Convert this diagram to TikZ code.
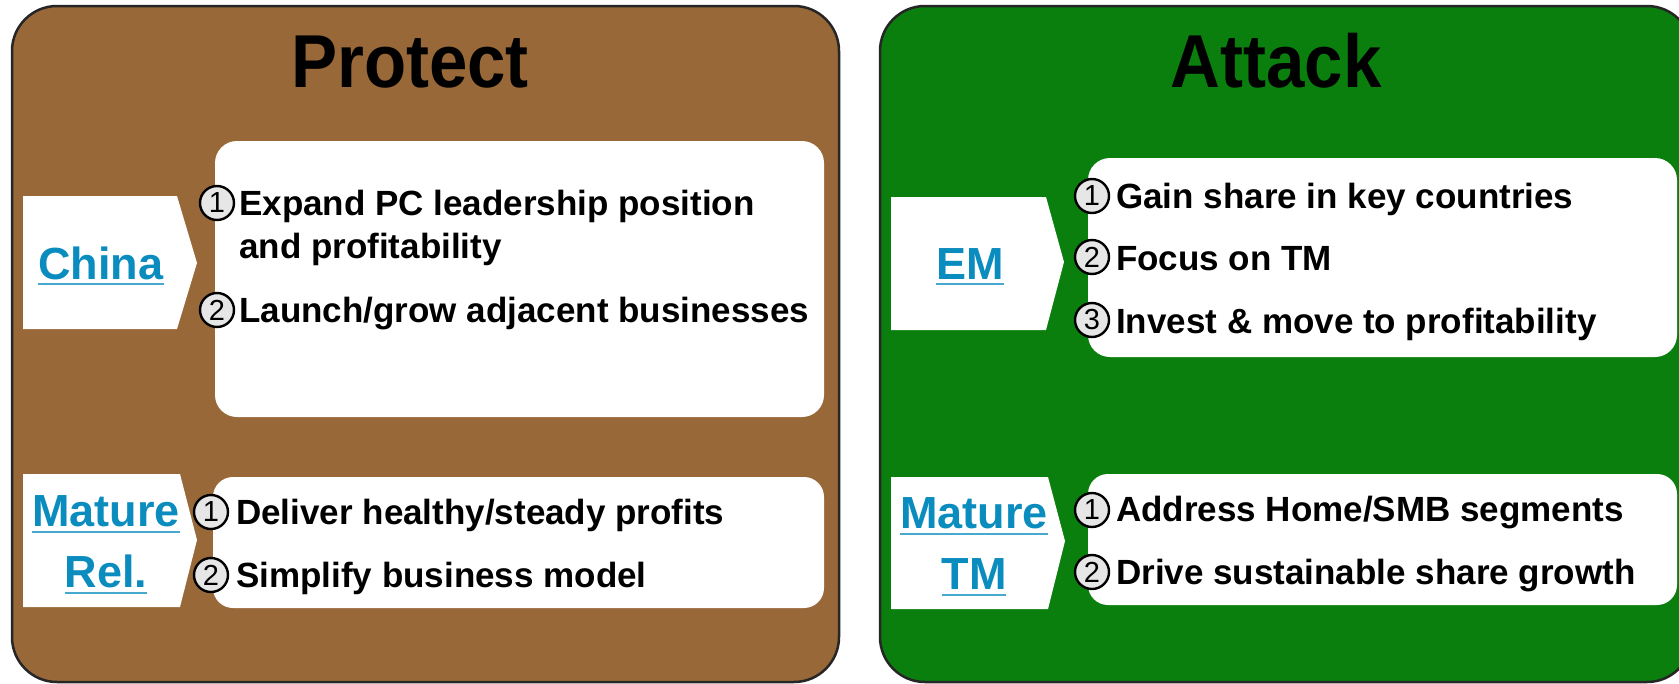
\documentclass[tikz,border=0pt]{standalone}
\usepackage{fontspec}
\setmainfont{Liberation Sans}
\definecolor{brownbg}{RGB}{153,104,56}
\definecolor{greenbg}{RGB}{10,127,14}
\definecolor{tagblue}{RGB}{10,140,190}
\definecolor{numfill}{RGB}{230,230,230}
\newcommand\myul[1]{\setbox0\hbox{#1}\rlap{\color{tagblue!75!white}\rule[-6pt]{\wd0}{2pt}}\box0}
\begin{document}
\begin{tikzpicture}[x=1pt,y=-1pt,
 panel/.style={draw=black!85, line width=2.5pt, rounded corners=45pt},
 card/.style={fill=white, rounded corners=22pt},
 tagshape/.style={fill=white},
 title/.style={font=\fontsize{75}{75}\selectfont\bfseries, anchor=base, inner sep=0pt},
 item/.style={font=\fontsize{35}{43}\selectfont\bfseries, anchor=base west, inner sep=0pt},
 num/.style={circle, draw=black, line width=2.4pt, fill=numfill, minimum size=34pt, inner sep=0pt, font=\fontsize{29}{29}\selectfont},
 tagtext/.style={font=\fontsize{45}{61}\selectfont\bfseries, text=tagblue, align=center, inner sep=0pt, anchor=base}
]
\useasboundingbox (0,0) rectangle (1679,683);
% panels
\draw[panel, fill=brownbg] (12,6) rectangle (839,682);
\draw[panel, fill=greenbg] (880,6) rectangle (1692,682);
\node[title] (tprot) at (410,87) {\scalebox{0.92}[1]{Protect}};
\node[title] (tatt) at (1276,87) {\scalebox{0.92}[1]{Attack}};

% China
\fill[tagshape] (23,196) -- (177,196) -- (197,263) -- (177,329) -- (23,329) -- cycle;
\node[tagtext] (china) at (101,279) {\myul{China}};
\fill[card] (215,141) rectangle (824,417);
\node[num] (c1) at (217,203) {1};
\node[item] (c1t) at (239,215) {Expand PC leadership position};
\node[item] (c1u) at (239,258) {and profitability};
\node[num] (c2) at (217,310) {2};
\node[item] (c2t) at (239,322) {Launch/grow adjacent businesses};

% Mature Rel.
\fill[tagshape] (23,474) -- (180,474) -- (197,540) -- (180,607) -- (23,607) -- cycle;
\node[tagtext, anchor=center] (mrel) at (106,545) {\myul{Mature}\\\myul{Rel.}};
\fill[card, rounded corners=20pt] (213,477) rectangle (824,608);
\node[num] (m1) at (211,512) {1};
\node[item] (m1t) at (236,524) {Deliver healthy/steady profits};
\node[num] (m2) at (211,575) {2};
\node[item] (m2t) at (236,587) {Simplify business model};

% EM
\fill[tagshape] (891,197) -- (1046,197) -- (1064,262) -- (1046,330) -- (891,330) -- cycle;
\node[tagtext] (em) at (970,279) {\myul{EM}};
\fill[card] (1088,158) rectangle (1677,357);
\node[num] (e1) at (1092,196) {1};
\node[item] (e1t) at (1116,208) {Gain share in key countries};
\node[num] (e2) at (1092,257) {2};
\node[item] (e2t) at (1116,270) {Focus on TM};
\node[num] (e3) at (1092,320) {3};
\node[item] (e3t) at (1116,333) {Invest \& move to profitability};

% Mature TM
\fill[tagshape] (891,477) -- (1048,477) -- (1065,541) -- (1048,609) -- (891,609) -- cycle;
\node[tagtext, anchor=center] (mtm) at (974,547) {\myul{Mature}\\\myul{TM}};
\fill[card, rounded corners=20pt] (1088,474) rectangle (1677,605);
\node[num] (t1) at (1092,510) {1};
\node[item] (t1t) at (1116,521) {Address Home/SMB segments};
\node[num] (t2) at (1092,572) {2};
\node[item] (t2t) at (1116,584) {Drive sustainable share growth};
\end{tikzpicture}
\end{document}
